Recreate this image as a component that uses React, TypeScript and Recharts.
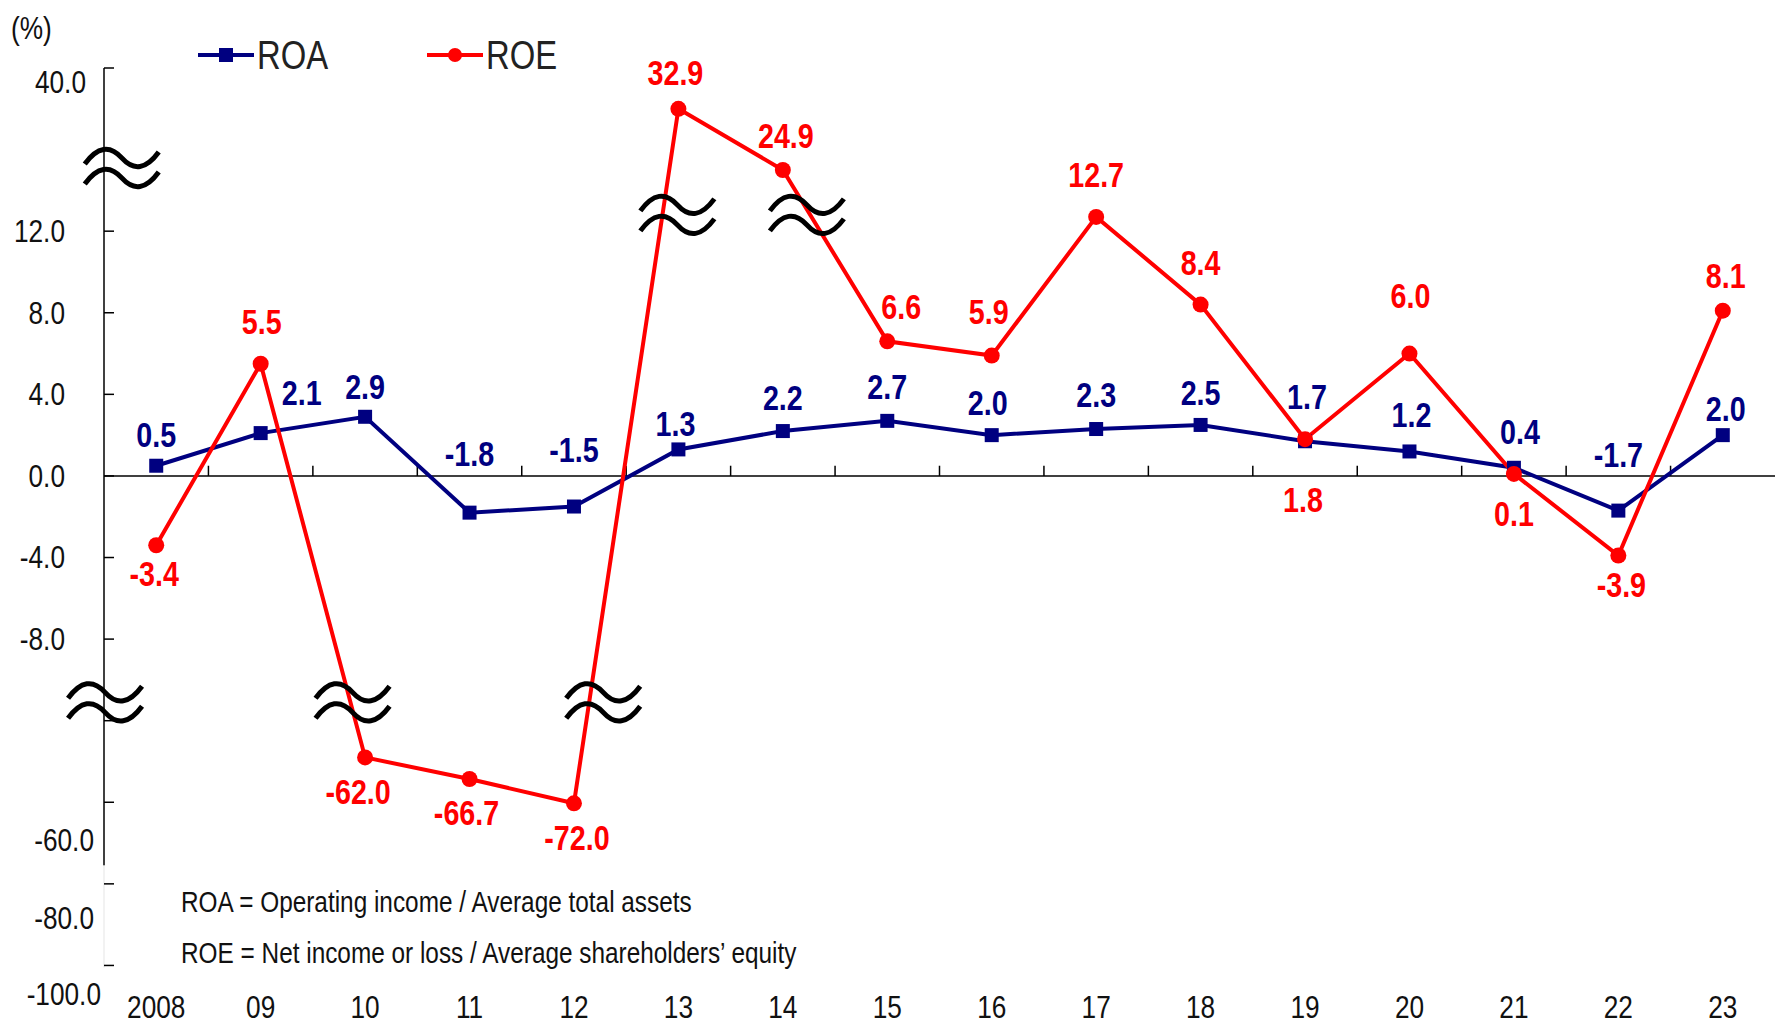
import {
  LineChart,
  Line,
  XAxis,
  YAxis,
  ReferenceLine,
  ReferenceDot,
  LabelList,
} from "recharts";

const years = ["2008", "09", "10", "11", "12", "13", "14", "15", "16", "17", "18", "19", "20", "21", "22", "23"];
const roa = [0.5, 2.1, 2.9, -1.8, -1.5, 1.3, 2.2, 2.7, 2.0, 2.3, 2.5, 1.7, 1.2, 0.4, -1.7, 2.0];
const roe = [-3.4, 5.5, -62.0, -66.7, -72.0, 32.9, 24.9, 6.6, 5.9, 12.7, 8.4, 1.8, 6.0, 0.1, -3.9, 8.1];
const yTickLabels = ["40.0", "12.0", "8.0", "4.0", "0.0", "-4.0", "-8.0", "-60.0", "-80.0", "-100.0"];

const NAVY = "#000080";
const RED = "#ff0000";
const FONT = '"Liberation Sans", Arial, sans-serif';
// no condensed face is available, so text is squeezed horizontally instead
const SQUEEZE = 0.82;

// the axis is broken twice: values beyond ~±12 are squeezed into short bands
const toPlot = (v: number) => {
  if (v > 16) return 15 + (v - 24.9) * 0.375;
  if (v < -12) return -13.8 + (v + 62) * 0.225;
  return v;
};

// where each y label sits on the plot scale, and where its text ends on the left
const Y_LABEL_AT = [19.3, 12, 8, 4, 0, -4, -8, -17.85, -21.7, -25.4];
const Y_LABEL_RIGHT = [86, 65, 65, 65, 65, 65, 65, 94, 94, 101];
const Y_MARKS = [20, 12, 8, 4, 0, -4, -8, -12, -16, -20, -24];
const Y_TICKS = Array.from(new Set([...Y_MARKS, ...Y_LABEL_AT]));

// label offsets from each point (px)
const ROA_DX = [0, 41, 0, 0, 0, -3, 0, 0, -4, 0, 0, 2, 2, 6, 0, 3];
const ROA_DY = [-31, -40, -30, -59, -57, -25, -33, -34, -32, -34, -32, -44, -36, -36, -56, -26];
const ROE_DX = [-2, 1, -7, -3, 3, -3, 3, 14, -3, 0, 0, -2, 1, 0, 3, 3];
const ROE_DY = [29, -42, 35, 34, 35, -36, -34, -34, -44, -42, -42, 61, -58, 40, 29, -35];

// "≈" break marks, in x-index / plot units
const BREAKS = [
  { x: -0.33, y: 15.1 },
  { x: -0.49, y: -11.1 },
  { x: 1.88, y: -11.1 },
  { x: 4.28, y: -11.1 },
  { x: 4.99, y: 12.8 },
  { x: 6.23, y: 12.8 },
];

const rows = years.map((year, i) => ({
  i,
  year,
  roa: roa[i],
  roe: roe[i],
  roaPlot: toPlot(roa[i]),
  roePlot: toPlot(roe[i]),
}));

const NarrowText = ({
  x,
  y,
  anchor = "middle",
  size,
  bold = false,
  color = "#111",
  children,
}: {
  x: number;
  y: number;
  anchor?: "start" | "middle" | "end";
  size: number;
  bold?: boolean;
  color?: string;
  children: any;
}) => (
  <text
    transform={`translate(${x} ${y}) scale(${SQUEEZE} 1)`}
    textAnchor={anchor}
    dominantBaseline="central"
    fontSize={size}
    fontWeight={bold ? "bold" : "normal"}
    fontFamily={FONT}
    fill={color}
  >
    {children}
  </text>
);

const BreakMark = ({ cx, cy }: { cx?: number; cy?: number }) => {
  if (cx == null || cy == null) return null;
  const wave = (oy: number) =>
    `M ${cx - 37} ${cy + oy + 6} Q ${cx - 18} ${cy + oy - 20} ${cx} ${cy + oy} T ${cx + 37} ${cy + oy - 6}`;
  return (
    <g fill="none" stroke="#000" strokeWidth={5}>
      <path d={wave(-10)} />
      <path d={wave(10)} />
    </g>
  );
};

const YTick = ({ x, y, payload }: any) => {
  const v = payload.value;
  const li = Y_LABEL_AT.indexOf(v);
  return (
    <g>
      {Y_MARKS.includes(v) && <line x1={x} x2={x + 10} y1={y} y2={y} stroke="#000" strokeWidth={1.5} />}
      {li >= 0 && (
        <NarrowText x={Y_LABEL_RIGHT[li]} y={y} anchor="end" size={32}>
          {yTickLabels[li]}
        </NarrowText>
      )}
    </g>
  );
};

const XTick = ({ x, y, payload }: any) => (
  <NarrowText x={x} y={y + 13} size={32}>
    {years[payload.value]}
  </NarrowText>
);

const valueLabel = (color: string, dxs: number[], dys: number[]) => (p: any) => {
  const { x, y, value, index } = p;
  return (
    <NarrowText x={x + dxs[index]} y={y + dys[index]} size={35} bold color={color}>
      {Number(value).toFixed(1)}
    </NarrowText>
  );
};

const narrowCss = (size: number, squeeze = SQUEEZE) => ({
  fontFamily: FONT,
  fontSize: size,
  color: "#111",
  lineHeight: 1,
  whiteSpace: "nowrap" as const,
  transform: `scaleX(${squeeze})`,
  transformOrigin: "left center",
});

const LegendItem = ({ color, square, label, left }: { color: string; square: boolean; label: string; left: number }) => (
  <div style={{ position: "absolute", left, top: 35, height: 40, display: "flex", alignItems: "center" }}>
    <svg width={56} height={20}>
      <line x1={0} x2={56} y1={10} y2={10} stroke={color} strokeWidth={4} />
      {square ? <rect x={21} y={3} width={14} height={14} fill={color} /> : <circle cx={28} cy={10} r={7} fill={color} />}
    </svg>
    <span style={{ ...narrowCss(40), color: "#222", marginLeft: 3 }}>{label}</span>
  </div>
);

export default function App() {
  return (
    <div style={{ position: "absolute", left: 0, top: 0, width: 1775, height: 1024, background: "#fff" }}>
      <style>{`body { margin: 0; }`}</style>
      <LineChart width={1775} height={1024} data={rows} margin={{ top: 68, right: 0, bottom: 0, left: 0 }}>
        <XAxis
          type="number"
          dataKey="i"
          domain={[-0.5, 15.5]}
          ticks={years.map((_, i) => i)}
          interval={0}
          axisLine={false}
          tickLine={false}
          tickSize={0}
          tickMargin={0}
          height={30}
          tick={<XTick />}
        />
        <YAxis
          type="number"
          domain={[-25.4, 20]}
          ticks={Y_TICKS}
          interval={0}
          width={104}
          axisLine={false}
          tickLine={false}
          tickSize={0}
          tickMargin={0}
          tick={<YTick />}
        />
        <ReferenceLine segment={[{ x: -0.5, y: 20 }, { x: -0.5, y: -19.1 }]} stroke="#000" strokeWidth={1.5} />
        <ReferenceLine segment={[{ x: -0.5, y: -19.1 }, { x: -0.5, y: -24.1 }]} stroke="#eeeeee" strokeWidth={1.5} />
        <ReferenceLine y={0} stroke="#000" strokeWidth={1.5} />
        {years.slice(1).map((_, k) => (
          <ReferenceLine
            key={k}
            segment={[{ x: k + 0.5, y: 0 }, { x: k + 0.5, y: 0.5 }]}
            stroke="#000"
            strokeWidth={1.5}
          />
        ))}
        <Line
          dataKey="roaPlot"
          stroke={NAVY}
          strokeWidth={4}
          isAnimationActive={false}
          dot={(p: any) => <rect key={`a${p.index}`} x={p.cx - 7} y={p.cy - 7} width={14} height={14} fill={NAVY} />}
        >
          <LabelList dataKey="roa" content={valueLabel(NAVY, ROA_DX, ROA_DY)} />
        </Line>
        <Line
          dataKey="roePlot"
          stroke={RED}
          strokeWidth={4}
          isAnimationActive={false}
          dot={(p: any) => <circle key={`e${p.index}`} cx={p.cx} cy={p.cy} r={8} fill={RED} />}
        >
          <LabelList dataKey="roe" content={valueLabel(RED, ROE_DX, ROE_DY)} />
        </Line>
        {BREAKS.map((b, k) => (
          <ReferenceDot key={k} x={b.x} y={b.y} r={0} ifOverflow="visible" shape={(p: any) => <BreakMark cx={p.cx} cy={p.cy} />} />
        ))}
      </LineChart>

      <div style={{ position: "absolute", left: 11, top: 12, ...narrowCss(32) }}>(%)</div>
      <LegendItem color={NAVY} square label="ROA" left={198} />
      <LegendItem color={RED} square={false} label="ROE" left={427} />
      <div style={{ position: "absolute", left: 181, top: 888, ...narrowCss(29, 0.84) }}>
        ROA = Operating income / Average total assets
      </div>
      <div style={{ position: "absolute", left: 181, top: 939, ...narrowCss(29, 0.84) }}>
        ROE = Net income or loss / Average shareholders’ equity
      </div>
    </div>
  );
}
